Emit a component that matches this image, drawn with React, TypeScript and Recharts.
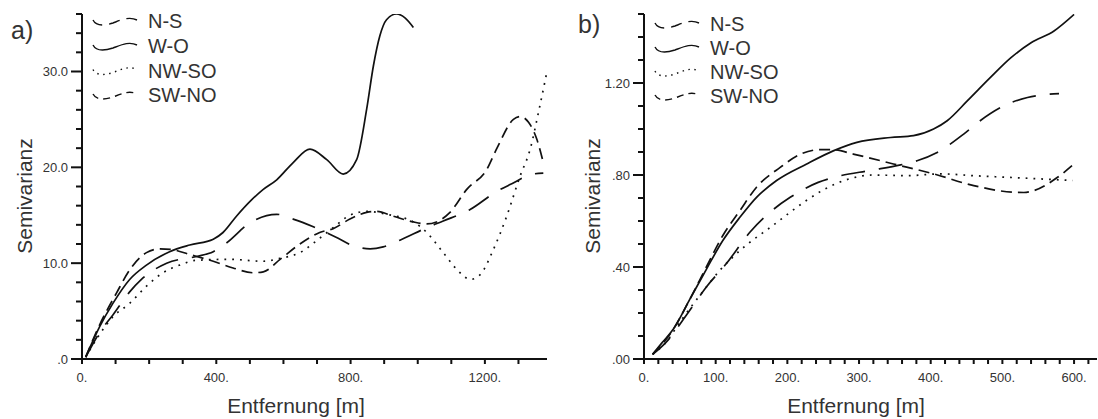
import { LineChart, Line, XAxis, YAxis, Legend } from 'recharts'

type Pt = [number, number]

// a) — distance [m], semivariance
const aNS: Pt[] = [[11, 0.2], [53, 2.8], [92, 4.6], [142, 7.0], [177, 8.3], [252, 10.0], [341, 10.7], [391, 11.2], [430, 12.1], [500, 14.2], [580, 15.1], [629, 14.6], [689, 13.8], [763, 12.6], [808, 11.8], [858, 11.5], [897, 11.7], [947, 12.4], [1027, 13.7], [1076, 14.4], [1156, 15.6], [1236, 17.5], [1275, 18.2], [1344, 19.3], [1374, 19.4]]
const aWO: Pt[] = [[11, 0.2], [53, 3.4], [92, 5.8], [142, 8.3], [192, 9.8], [261, 11.2], [321, 11.9], [391, 12.5], [420, 13.2], [460, 14.9], [505, 16.6], [540, 17.7], [580, 18.7], [629, 20.5], [679, 21.9], [729, 20.8], [778, 19.3], [818, 20.8], [848, 26.1], [868, 30.6], [887, 33.7], [907, 35.4], [937, 36.0], [962, 35.6], [987, 34.6]]
const aNWSO: Pt[] = [[11, 0.2], [53, 2.6], [92, 4.4], [142, 5.8], [192, 7.6], [241, 9.0], [291, 9.8], [341, 10.3], [440, 10.4], [540, 10.2], [590, 10.5], [649, 11.1], [708, 12.6], [748, 13.7], [798, 15.0], [848, 15.4], [907, 15.1], [987, 14.3], [1027, 13.2], [1076, 11.1], [1126, 9.0], [1156, 8.3], [1186, 8.8], [1225, 11.4], [1265, 14.9], [1305, 19.1], [1335, 21.9], [1360, 25.8], [1385, 30.0]]
const aSWNO: Pt[] = [[11, 0.2], [53, 3.6], [103, 6.9], [142, 9.3], [192, 11.1], [232, 11.5], [271, 11.4], [321, 10.9], [391, 10.2], [450, 9.5], [510, 9.0], [540, 9.1], [590, 10.4], [649, 12.0], [708, 13.2], [748, 13.6], [798, 14.6], [848, 15.3], [877, 15.4], [927, 14.9], [987, 14.3], [1027, 14.1], [1056, 14.3], [1096, 15.3], [1146, 17.7], [1206, 19.8], [1236, 22.0], [1285, 25.0], [1305, 25.3], [1330, 24.7], [1355, 22.9], [1374, 20.5]]

// b) — distance [m], semivariance
const bNS: Pt[] = [[12, 0.02], [30, 0.07], [59, 0.19], [87, 0.313], [115, 0.415], [148, 0.552], [180, 0.649], [204, 0.703], [243, 0.768], [269, 0.793], [316, 0.82], [358, 0.844], [381, 0.862], [409, 0.898], [446, 0.978], [469, 1.036], [507, 1.108], [535, 1.137], [579, 1.154]]
const bWO: Pt[] = [[12, 0.02], [25, 0.07], [41, 0.13], [64, 0.26], [87, 0.39], [110, 0.515], [134, 0.617], [157, 0.703], [185, 0.776], [227, 0.848], [264, 0.905], [297, 0.942], [344, 0.963], [376, 0.971], [404, 1.0], [423, 1.036], [451, 1.122], [483, 1.223], [512, 1.31], [540, 1.375], [572, 1.426], [600, 1.498]]
const bNWSO: Pt[] = [[12, 0.02], [30, 0.07], [50, 0.16], [87, 0.313], [106, 0.386], [134, 0.472], [180, 0.581], [227, 0.69], [250, 0.735], [283, 0.78], [320, 0.8], [367, 0.797], [414, 0.805], [460, 0.797], [507, 0.79], [553, 0.783], [598, 0.776]]
const bSWNO: Pt[] = [[12, 0.02], [41, 0.13], [64, 0.26], [87, 0.4], [110, 0.537], [134, 0.646], [157, 0.747], [190, 0.833], [218, 0.89], [245, 0.91], [264, 0.91], [292, 0.891], [348, 0.848], [404, 0.805], [460, 0.754], [516, 0.725], [530, 0.724], [544, 0.732], [577, 0.79], [600, 0.848]]

const SERIES = ['N-S', 'W-O', 'NW-SO', 'SW-NO']

// ticks
const aXTicks = [0, 100, 200, 300, 400, 500, 600, 700, 800, 900, 1000, 1100, 1200, 1300]
const aXLabels: Pt[] = [[0, 0], [400, 400], [800, 800], [1200, 1200]]
const aYTicks = [0, 2, 4, 6, 8, 10, 12, 14, 16, 18, 20, 22, 24, 26, 28, 30, 32, 34, 36]
const aYLabelVals = [0, 10, 20, 30]
const aYLabelText = ['.0', '10.0', '20.0', '30.0']

const bXTicks = [0, 20, 40, 60, 80, 100, 120, 140, 160, 180, 200, 220, 240, 260, 280, 300, 320, 340, 360, 380, 400, 420, 440, 460, 480, 500, 520, 540, 560, 580, 600, 620]
const bXLabels: Pt[] = [[0, 0], [100, 100], [200, 200], [300, 300], [400, 400], [500, 500], [600, 600]]
const bYTicks = [0, 0.1, 0.2, 0.3, 0.4, 0.5, 0.6, 0.7, 0.8, 0.9, 1.0, 1.1, 1.2, 1.3, 1.4, 1.5]
const bYLabelVals = [0, 0.4, 0.8, 1.2]
const bYLabelText = ['.00', '.40', '.80', '1.20']

const FONT = '"Liberation Sans", Arial, Helvetica, sans-serif'
const INK = '#111'
const TEXT = '#333'

const DASH: Record<string, string | undefined> = {
  'N-S': '24 14',
  'W-O': undefined,
  'NW-SO': '1.8 6',
  'SW-NO': '11 6',
}
const LEGEND_DASH: Record<string, string | undefined> = {
  'N-S': '11 7',
  'W-O': undefined,
  'NW-SO': '1.5 4.5',
  'SW-NO': '7 5',
}

const near = (a: number, b: number) => Math.abs(a - b) < 1e-6

// tick marks drawn as small filled rects so they stay crisp
const makeYTick = (vals: number[], text: string[]) => (props: any) => {
  const { x, y, payload } = props
  const i = vals.findIndex(v => near(v, payload.value))
  const len = i >= 0 ? 11 : 6
  return (
    <g>
      <rect x={x - len} y={y - 1} width={len} height={2} fill={INK} />
      {i >= 0 && (
        <text x={x - 14} y={y + 4.5} textAnchor="end" fontSize={13} fill={TEXT} fontFamily={FONT}>{text[i]}</text>
      )}
    </g>
  )
}

const makeXTick = (labels: Pt[]) => (props: any) => {
  const { x, y, payload } = props
  const lab = labels.find(l => near(l[0], payload.value))
  return (
    <g>
      <rect x={x - 1} y={y} width={2} height={5} fill={INK} />
      {lab && (
        <text x={x} y={y + 23} textAnchor="middle" fontSize={13} fill={TEXT} fontFamily={FONT}>{`${lab[1]}.`}</text>
      )}
    </g>
  )
}

const PanelLegend = ({ tag, tagX, tagY, sampleX, textX, baselines }: { tag: string; tagX: number; tagY: number; sampleX: number; textX: number; baselines: number[] }) => (
  <svg width={300} height={115} style={{ display: 'block', overflow: 'visible' }}>
    <text x={tagX} y={tagY} fontSize={25} fill={TEXT} fontFamily={FONT}>{tag}</text>
    {SERIES.map((name, i) => {
      const b = baselines[i] - 7
      return (
        <g key={name}>
          <path
            d={`M${sampleX},${b - 1} C${sampleX + 3},${b + 5} ${sampleX + 11},${b + 5} ${sampleX + 20},${b + 2} C${sampleX + 28},${b - 1} ${sampleX + 36},${b - 5} ${sampleX + 44},${b - 1}`}
            fill="none"
            stroke={INK}
            strokeWidth={1.4}
            strokeDasharray={LEGEND_DASH[name]}
          />
          <text x={textX} y={baselines[i]} fontSize={20} fill={TEXT} fontFamily={FONT}>{name}</text>
        </g>
      )
    })}
  </svg>
)

type PanelProps = {
  tag: string
  width: number
  yWidth: number
  right: number
  xMax: number
  yMax: number
  xTicks: number[]
  xLabels: Pt[]
  yTicks: number[]
  yVals: number[]
  yText: string[]
  series: Pt[][]
  xTitleX: number
  yTitleX: number
  legend: { tagX: number; tagY: number; sampleX: number; textX: number; baselines: number[] }
}

const Panel = (p: PanelProps) => (
  <LineChart width={p.width} height={419} margin={{ top: 14, right: p.right, bottom: 0, left: 0 }}>
    <XAxis
      type="number"
      dataKey="x"
      domain={[0, p.xMax]}
      allowDataOverflow
      ticks={p.xTicks}
      interval={0}
      tickSize={0}
      tickMargin={0}
      tickLine={false}
      height={60}
      axisLine={{ stroke: INK, strokeWidth: 2 }}
      tick={makeXTick(p.xLabels)}
      label={() => (
        <text x={p.xTitleX} y={413} textAnchor="middle" fontSize={21} fill={TEXT} fontFamily={FONT}>Entfernung [m]</text>
      )}
    />
    <YAxis
      type="number"
      domain={[0, p.yMax]}
      allowDataOverflow
      ticks={p.yTicks}
      interval={0}
      tickSize={0}
      tickMargin={0}
      tickLine={false}
      width={p.yWidth}
      axisLine={{ stroke: INK, strokeWidth: 2 }}
      tick={makeYTick(p.yVals, p.yText)}
      label={() => (
        <text x={p.yTitleX} y={196} transform={`rotate(-90, ${p.yTitleX}, 196)`} textAnchor="middle" fontSize={21} fill={TEXT} fontFamily={FONT}>Semivarianz</text>
      )}
    />
    <Legend
      layout="horizontal"
      verticalAlign="middle"
      align="center"
      wrapperStyle={{ left: 0, top: 0, width: 300, height: 115 }}
      content={() => <PanelLegend tag={p.tag} {...p.legend} />}
    />
    {p.series.map((pts, i) => (
      <Line
        key={SERIES[i]}
        name={SERIES[i]}
        data={pts.map(([x, y]) => ({ x, y }))}
        dataKey="y"
        type="monotone"
        stroke={INK}
        strokeWidth={1.7}
        strokeDasharray={DASH[SERIES[i]]}
        dot={false}
        activeDot={false}
        isAnimationActive={false}
      />
    ))}
  </LineChart>
)

export default function App() {
  return (
    <div style={{ position: 'absolute', left: 0, top: 0, width: 1098, height: 419, background: '#fff', fontFamily: FONT, overflow: 'hidden' }}>
      <div style={{ position: 'absolute', left: 0, top: 0 }}>
        <Panel
          tag="a)"
          width={560}
          yWidth={82}
          right={13}
          xMax={1385}
          yMax={36}
          xTicks={aXTicks}
          xLabels={aXLabels}
          yTicks={aYTicks}
          yVals={aYLabelVals}
          yText={aYLabelText}
          series={[aNS, aWO, aNWSO, aSWNO]}
          xTitleX={296}
          yTitleX={32}
          legend={{ tagX: 11, tagY: 39, sampleX: 93, textX: 148, baselines: [28, 53, 77.5, 102] }}
        />
      </div>
      <div style={{ position: 'absolute', left: 560, top: 0 }}>
        <Panel
          tag="b)"
          width={538}
          yWidth={84}
          right={1}
          xMax={632}
          yMax={1.5}
          xTicks={bXTicks}
          xLabels={bXLabels}
          yTicks={bYTicks}
          yVals={bYLabelVals}
          yText={bYLabelText}
          series={[bNS, bWO, bNWSO, bSWNO]}
          xTitleX={296}
          yTitleX={40}
          legend={{ tagX: 18, tagY: 33, sampleX: 95, textX: 150, baselines: [31, 55, 79, 103] }}
        />
      </div>
    </div>
  )
}
